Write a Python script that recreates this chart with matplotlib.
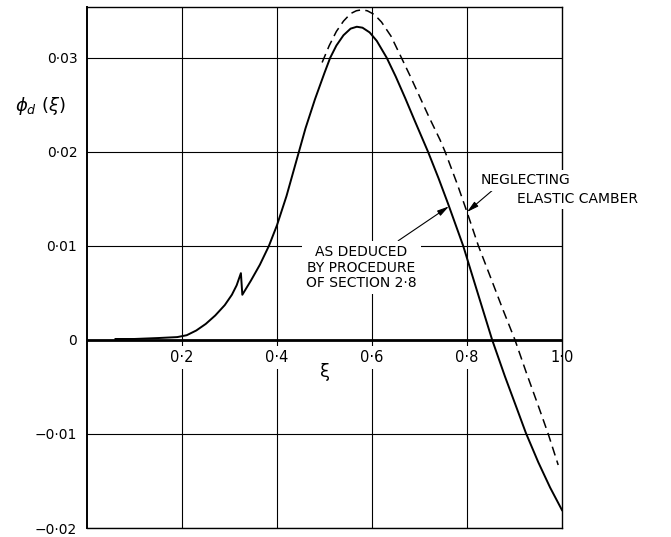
import matplotlib
matplotlib.use("Agg")
import matplotlib.pyplot as plt

# Solid curve: phi_d(xi) as deduced by the procedure of Section 2.8
xi_solid = [0.06, 0.10, 0.15, 0.19, 0.21, 0.23, 0.25, 0.27, 0.29, 0.305,
            0.315, 0.324, 0.327, 0.345, 0.364, 0.383, 0.40, 0.42, 0.445, 0.46,
            0.48, 0.50, 0.512, 0.525, 0.54, 0.555, 0.568, 0.58, 0.595, 0.61,
            0.631, 0.65, 0.67, 0.69, 0.718, 0.74, 0.76, 0.792, 0.82, 0.853,
            0.88, 0.905, 0.924, 0.95, 0.975, 1.0]
phi_solid = [0.0001, 0.0001, 0.0002, 0.0003, 0.0005, 0.0010, 0.0017, 0.0026, 0.0037, 0.0048,
             0.0058, 0.0071, 0.0048, 0.0063, 0.0080, 0.0100, 0.0122, 0.0153, 0.0198, 0.0225,
             0.0256, 0.0284, 0.0300, 0.0313, 0.0324, 0.0331, 0.0333, 0.0332, 0.0327, 0.0318,
             0.0300, 0.0280, 0.0257, 0.0233, 0.0200, 0.0172, 0.0145, 0.0100, 0.0054, 0.0000,
             -0.0039, -0.0073, -0.0099, -0.0130, -0.0157, -0.0181]

# Dashed curve: neglecting elastic camber
xi_dashed = [0.495, 0.51, 0.525, 0.54, 0.555, 0.567, 0.578, 0.59, 0.605, 0.62,
             0.64, 0.662, 0.68, 0.70, 0.72, 0.743, 0.754, 0.78, 0.80, 0.824,
             0.85, 0.875, 0.901, 0.925, 0.95, 0.971, 0.992]
phi_dashed = [0.0295, 0.0313, 0.0328, 0.0339, 0.0347, 0.0350, 0.0351, 0.0350, 0.0346, 0.0338,
              0.0323, 0.0300, 0.0281, 0.0259, 0.0237, 0.0213, 0.0200, 0.0165, 0.0136, 0.0100,
              0.0066, 0.0033, 0.0000, -0.0035, -0.0070, -0.0100, -0.0133]

xtick_values = [0.2, 0.4, 0.6, 0.8, 1.0]
xtick_labels = ["0·2", "0·4", "0·6", "0·8", "1·0"]
ytick_values = [-0.02, -0.01, 0.0, 0.01, 0.02, 0.03]
ytick_labels = ["−0·02", "−0·01", "0", "0·01", "0·02", "0·03"]

plt.rcParams["font.family"] = ["DejaVu Sans"]

fig = plt.figure(figsize=(6.71, 5.37), dpi=100)
ax = fig.add_axes([87 / 671, 9 / 537, 475 / 671, 521 / 537])
ax.set_xlim(0, 1.0)
ax.set_ylim(-0.02, 0.0354)

# grid
ax.set_xticks(xtick_values[:-1])
ax.set_xticklabels([])
ax.set_yticks(ytick_values)
ax.set_yticklabels(ytick_labels, fontsize=10)
ax.tick_params(length=0, pad=7)
ax.grid(True, color="black", lw=0.8, zorder=0)
ax.set_axisbelow(True)
for s in ax.spines.values():
    s.set_linewidth(1.0)
ax.spines["left"].set_linewidth(1.4)

ax.axhline(0, color="black", lw=2.0, zorder=1)

# x tick labels sit just under the zero line, breaking the grid
for xv, lab in zip(xtick_values, xtick_labels):
    ax.annotate(lab, xy=(xv, 0), xytext=(0, -18), textcoords="offset points",
                ha="center", va="bottom", fontsize=10.5, zorder=2,
                bbox=dict(boxstyle="square,pad=0.3", fc="white", ec="none"))

ax.plot(xi_solid, phi_solid, color="black", lw=1.4, zorder=4)
ax.plot(xi_dashed, phi_dashed, color="black", lw=1.1, ls=(0, (6, 3.5)), zorder=4)

ax.text(0.501, -0.0034, "ξ", fontsize=13, ha="center", va="center")
fig.text(40 / 671, 1 - 106 / 537, r"$\phi_d\ (\xi)$", fontsize=13, ha="center", va="center")

arrow = dict(arrowstyle="-|>,head_length=0.7,head_width=0.18", color="black", lw=0.8,
             shrinkA=0, shrinkB=0)

ax.annotate("AS DEDUCED\nBY PROCEDURE\nOF SECTION 2·8",
            xy=(0.762, 0.0142), xytext=(0.577, 0.0101),
            ha="center", va="top", multialignment="center", fontsize=10,
            linespacing=1.15, zorder=3,
            bbox=dict(boxstyle="square,pad=0.3", fc="white", ec="none"),
            arrowprops=dict(arrow, relpos=(0.78, 1.0)))

ax.annotate("NEGLECTING", xy=(0.800, 0.0136), xytext=(0.924, 0.0170),
            ha="center", va="center", fontsize=10, zorder=3,
            bbox=dict(boxstyle="square,pad=0.25", fc="white", ec="none"),
            arrowprops=dict(arrow, relpos=(0.17, 0.0)))
ax.text(1.032, 0.0150, "ELASTIC CAMBER", ha="center", va="center", fontsize=10,
        zorder=3, bbox=dict(boxstyle="square,pad=0.25", fc="white", ec="none"))

fig.savefig("out.png", dpi=100)
